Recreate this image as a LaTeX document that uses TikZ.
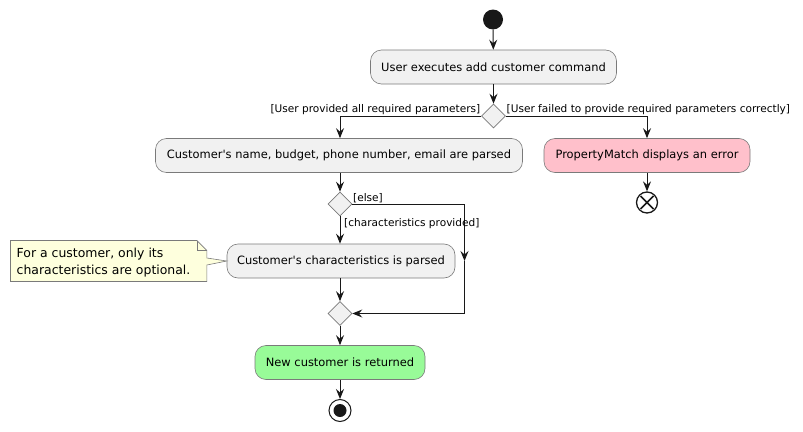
\documentclass[tikz,border=0pt]{standalone}
\usepackage{fontspec}
\setmainfont{DejaVu Sans}
\usetikzlibrary{arrows.meta,shapes.geometric,positioning,calc}
\definecolor{boxfill}{HTML}{F1F1F1}
\definecolor{linec}{HTML}{181818}
\definecolor{boxborder}{HTML}{7A7A7A}
\definecolor{pinkfill}{HTML}{FFC0CB}
\definecolor{greenfill}{HTML}{98FB98}
\definecolor{notefill}{HTML}{FEFFDD}
\tikzset{
  act/.style={draw=boxborder,line width=0.6pt,fill=boxfill,rounded corners=11pt,inner sep=0pt,
    minimum height=34pt,font=\fontsize{11.45}{13}\selectfont,text=black},
  dec/.style={draw=boxborder,line width=0.6pt,fill=boxfill,diamond,inner sep=0pt,minimum width=24pt,minimum height=24pt},
  flow/.style={draw=linec,line width=1pt,-{Stealth[length=10pt,width=8pt,inset=3.5pt]}},
  lbl/.style={font=\fontsize{10.55}{12}\selectfont,inner sep=0pt,text=black},
}
\begin{document}
\begin{tikzpicture}[x=1pt,y=-1pt]
\useasboundingbox (0,0) rectangle (803,431);
% start
\node[circle,fill=linec,minimum size=20pt,inner sep=0pt] (start) at (493,19.5) {};
\node[act,minimum width=246pt] (a1) at (493.5,67) {User executes add customer command};
\node[dec] (d1) at (493.5,116) {};
\node[act,minimum width=367pt] (a2) at (339,155.5) {Customer\textquotesingle s name, budget, phone number, email are parsed};
\node[act,minimum width=206pt,fill=pinkfill] (a3) at (647,155.5) {PropertyMatch displays an error};
\node[circle,draw=linec,line width=1.3pt,minimum size=21pt,inner sep=0pt,fill=white] (x1) at (647,202.5) {};
\draw[linec,line width=1.6pt] ($(x1.center)+(-6.5,-6.5)$) -- ($(x1.center)+(6.5,6.5)$)
  ($(x1.center)+(-6.5,6.5)$) -- ($(x1.center)+(6.5,-6.5)$);
\node[dec] (d2) at (340,204) {};
\node[act,minimum width=228pt] (a4) at (341,261) {Customer\textquotesingle s characteristics is parsed};
\node[dec] (d3) at (340,313.5) {};
\node[act,minimum width=170pt,fill=greenfill] (a5) at (340,362.5) {New customer is returned};
\node[circle,draw=linec,line width=1pt,minimum size=22pt,inner sep=0pt,fill=white] (endo) at (340,410.5) {};
\node[circle,fill=linec,minimum size=13pt,inner sep=0pt] (endi) at (340,410.5) {};
% note
\node[draw=none,inner sep=0pt,minimum width=196pt,minimum height=40.6pt] (note) at (108.7,261) {};
\draw[boxborder,line width=0.6pt,fill=notefill]
  (note.north west) -- ($(note.north east)+(-10,0)$) -- ($(note.north east)+(0,10)$)
  -- ($(note.east)+(0,-3)$) -- (a4.west) -- ($(note.east)+(0,4)$)
  -- (note.south east) -- (note.south west) -- cycle;
\draw[boxborder,line width=0.6pt] ($(note.north east)+(-10,0)$) -- ($(note.north east)+(-10,10)$) -- ($(note.north east)+(0,10)$);
\node[anchor=base west,align=left,inner sep=0pt,font=\fontsize{12.45}{16.7}\selectfont] (notetext) at (16.5,274.5) {For a customer, only its\\characteristics are optional.};
% connectors
\draw[flow] (start) -- (a1);
\draw[flow] (a1) -- (d1);
\draw[flow] (d1.west) -| (a2.north -| 340,0);
\draw[flow] (d1.east) -| (a3.north);
\draw[flow] (a2.south -| d2) -- (d2.north);
\draw[flow] (a3) -- (x1);
\draw[flow] (d2.south) -- (a4.north -| d2);
\coordinate (mid) at (464.5,261);
\draw[flow] (d2.east) -| (mid);
\draw[flow] (mid) |- (d3.east);
\draw[flow] (a4.south -| d3) -- (d3.north);
\draw[flow] (d3.south) -- (a5.north);
\draw[flow] (a5.south) -- (endo.north);
% labels
\node[lbl,anchor=base east] (l1) at (480.5,112.5) {[User provided all required parameters]};
\node[lbl,anchor=base west] (l2) at (506.5,112.5) {[User failed to provide required parameters correctly]};
\node[lbl,anchor=base west] (l3) at (353,201) {[else]};
\node[lbl,anchor=base west] (l4) at (344,226.5) {[characteristics provided]};
\end{tikzpicture}
\end{document}
